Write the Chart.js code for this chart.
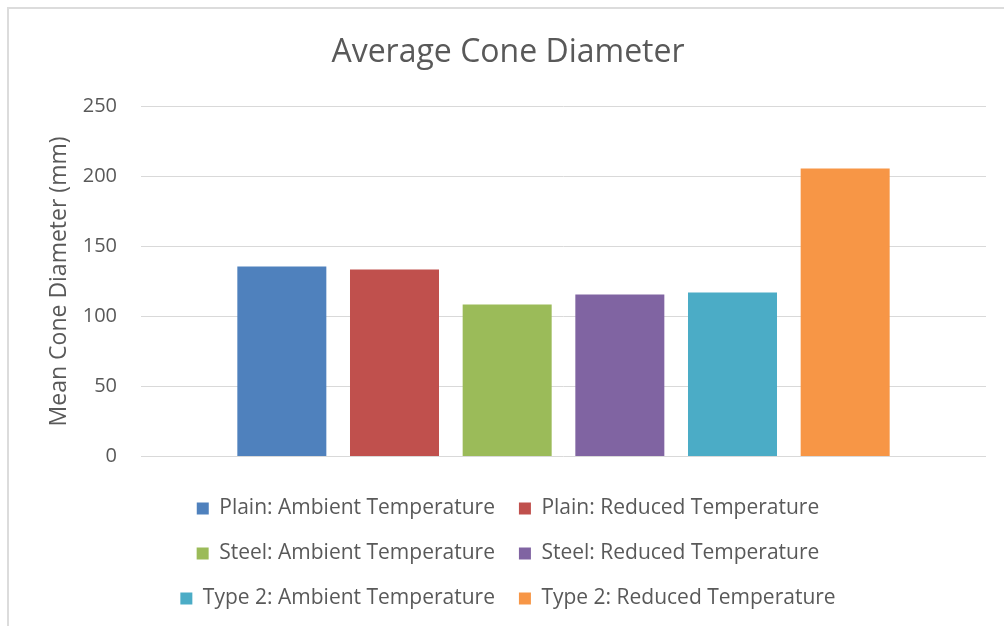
<!DOCTYPE html>
<html>
<head>
<meta charset="utf-8">
<script src="https://cdn.jsdelivr.net/npm/chart.js@4"></script>
<style>
  body { margin: 0; background: #fff; overflow: hidden; }
  #frame { position: absolute; left: 7px; top: 7px; width: 1100px; height: 700px; border: 2px solid #dcdcdc; }
  #wrap { position: absolute; left: 0; top: 0; width: 1004px; height: 626px; }
</style>
</head>
<body>
<div id="frame"></div>
<div id="wrap"><canvas id="coneChart"></canvas></div>
<script>
const categories = [''];
const seriesNames = [
    'Plain: Ambient Temperature',
    'Plain: Reduced Temperature',
    'Steel: Ambient Temperature',
    'Steel: Reduced Temperature',
    'Type 2: Ambient Temperature',
    'Type 2: Reduced Temperature'
];
const seriesValues = [135.7, 133.6, 108.6, 115.7, 117.1, 205.7];
const seriesColors = ['#4F81BD', '#C0504D', '#9BBB59', '#8064A2', '#4BACC6', '#F79646'];
const yTicks = [0, 50, 100, 150, 200, 250];

const textColor = '#595959';
const fontFamily = '"Open Sans", sans-serif';

const datasets = seriesNames.map((name, i) => ({
    label: name,
    data: [seriesValues[i]],
    backgroundColor: seriesColors[i],
    borderWidth: 0,
    categoryPercentage: 0.8,
    barPercentage: 0.79
}));

const ctx = document.getElementById('coneChart').getContext('2d');
new Chart(ctx, {
    type: 'bar',
    data: { labels: categories, datasets: datasets },
    options: {
        responsive: true,
        maintainAspectRatio: false,
        animation: false,
        layout: { padding: { left: 30, right: 18, top: 0, bottom: 7 } },
        plugins: {
            title: {
                display: true,
                text: 'Average Cone Diameter',
                color: textColor,
                font: { family: fontFamily, size: 32, weight: 'normal' },
                padding: { top: 34, bottom: 34 }
            },
            legend: {
                position: 'bottom',
                labels: {
                    color: textColor,
                    font: { family: fontFamily, size: 21 },
                    boxWidth: 12,
                    boxHeight: 12,
                    padding: 24
                }
            },
            tooltip: { enabled: false }
        },
        scales: {
            x: {
                grid: { display: false },
                border: { display: false },
                ticks: { display: false },
                afterFit: s => { s.height = 17.5; }
            },
            y: {
                min: 0,
                max: 250,
                afterBuildTicks: s => { s.ticks = yTicks.map(v => ({ value: v })); },
                afterFit: s => { s.width = 111; },
                grid: { color: '#D9D9D9', lineWidth: 1, drawTicks: false },
                border: { display: false },
                ticks: {
                    color: textColor,
                    font: { family: fontFamily, size: 20 },
                    padding: 24
                },
                title: {
                    display: true,
                    text: 'Mean Cone Diameter (mm)',
                    color: textColor,
                    font: { family: fontFamily, size: 23 },
                    padding: { top: 16 }
                }
            }
        }
    }
});
</script>
</body>
</html>
